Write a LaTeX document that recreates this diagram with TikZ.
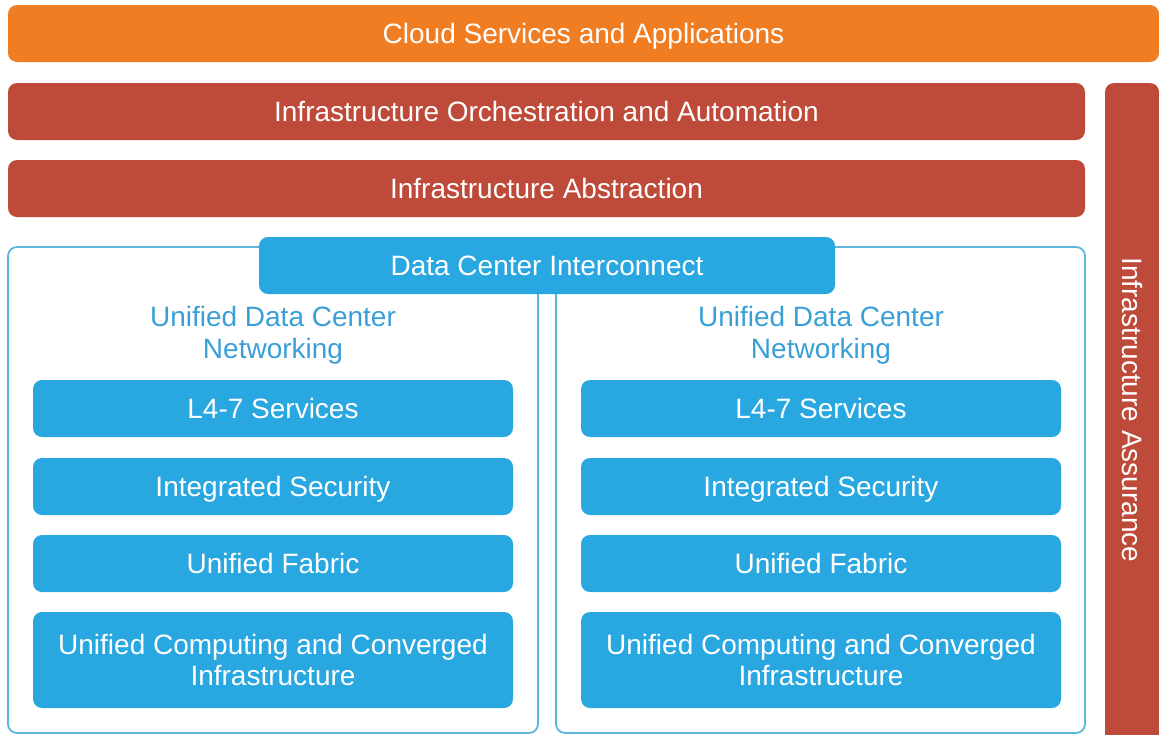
\documentclass[tikz,border=0pt]{standalone}
\usepackage{fontspec}
\setmainfont{Liberation Sans}
\definecolor{cOrange}{HTML}{F07D22}
\definecolor{cRed}{HTML}{BE4A3A}
\definecolor{cBlue}{HTML}{29A7E0}
\definecolor{cLine}{HTML}{5DB6DE}
\definecolor{cHead}{HTML}{3A9FD6}
\begin{document}
\begin{tikzpicture}[x=1pt,y=-1pt,
  bar/.style={rounded corners=9pt, inner sep=0pt, text=white, align=center,
    font=\fontsize{28}{31.5}\selectfont},
  one/.style={text height=20pt, text depth=0pt},
  orangebar/.style={bar, one, fill=cOrange},
  redbar/.style={bar, one, fill=cRed},
  bluebar/.style={bar, one, fill=cBlue},
  bluebig/.style={bar, fill=cBlue},
  frame/.style={draw=cLine, line width=1.8pt, rounded corners=9pt},
  head/.style={text=cHead, align=center, inner sep=0pt, font=\fontsize{28}{32}\selectfont}]
\useasboundingbox (0,0) rectangle (1159,734);
% top bars
\node[orangebar, minimum width=1151pt, minimum height=57pt] (cloud) at (583.5,33.5) {Cloud Services and Applications};
\node[redbar, minimum width=1077pt, minimum height=57pt] (orch) at (546.5,111.5) {Infrastructure Orchestration and Automation};
\node[redbar, minimum width=1077pt, minimum height=57pt] (abs) at (546.5,188.5) {Infrastructure Abstraction};
\node[redbar, minimum width=54pt, minimum height=660pt] (assur) at (1132,413) {};
\node[text=white, inner sep=0pt, rotate=-90, font=\fontsize{28}{32}\selectfont] (assurtxt) at (1132,410) {Infrastructure Assurance};
% frames
\draw[frame] (8,247) rectangle (538,733);
\draw[frame] (556,247) rectangle (1085,733);
\node[bluebar, minimum width=576pt, minimum height=57pt] (dci) at (547,265.5) {Data Center Interconnect};
% left column
\node[head] (hl) at (273,335) {Unified Data Center\\Networking};
\node[bluebar, minimum width=480pt, minimum height=57pt] (l47a) at (273,408.5) {L4-7 Services};
\node[bluebar, minimum width=480pt, minimum height=57pt] (seca) at (273,486.5) {Integrated Security};
\node[bluebar, minimum width=480pt, minimum height=57pt] (faba) at (273,563.5) {Unified Fabric};
\node[bluebig, minimum width=480pt, minimum height=96pt] (ucca) at (273,660) {Unified Computing and Converged\\Infrastructure};
% right column
\node[head] (hr) at (821,335) {Unified Data Center\\Networking};
\node[bluebar, minimum width=480pt, minimum height=57pt] (l47b) at (821,408.5) {L4-7 Services};
\node[bluebar, minimum width=480pt, minimum height=57pt] (secb) at (821,486.5) {Integrated Security};
\node[bluebar, minimum width=480pt, minimum height=57pt] (fabb) at (821,563.5) {Unified Fabric};
\node[bluebig, minimum width=480pt, minimum height=96pt] (uccb) at (821,660) {Unified Computing and Converged\\Infrastructure};
\end{tikzpicture}
\end{document}
